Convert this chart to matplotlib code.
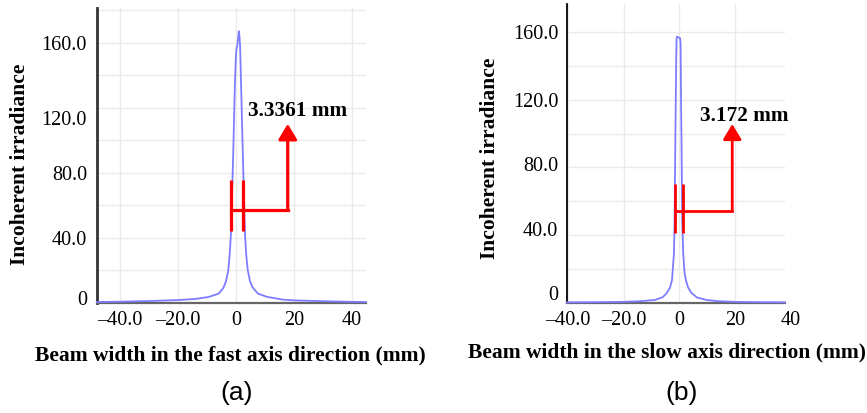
import matplotlib
matplotlib.use("Agg")
import matplotlib.pyplot as plt
from matplotlib.ticker import MultipleLocator, FixedLocator
from matplotlib.transforms import ScaledTranslation

# ---------------- data ----------------
# (a) fast axis profile
x_fast = [-48, -40, -30, -20, -14, -9.5, -6, -4.4, -3.5, -2.7, -2.2, -1.8, -1.5, -1.0,
          -0.45, -0.1, 0.1, 0.4, 0.7, 0.93, 1.15, 1.38, 1.72, 2.3, 2.76, 3.1, 3.5, 4.0,
          4.8, 5.6, 7.5, 10.6, 16, 20, 30, 40, 44.7]
y_fast = [0.3, 0.5, 0.9, 1.5, 2.2, 3.4, 5.5, 9.0, 13, 19.8, 30, 42, 60, 92,
          133, 150, 156, 158, 163, 167, 164, 157.6, 133, 92, 61, 40.3, 29, 20,
          13, 9.5, 5.5, 3.5, 1.8, 1.3, 0.8, 0.4, 0.3]

# (b) slow axis profile
x_slow = [-40.6, -30, -20, -14, -8.8, -6, -4.5, -3.3, -2.6, -1.9, -1.66, -1.44, -1.19,
          -1.05, -0.94, -0.8, 0.3, 0.5, 0.61, 0.86, 1.08, 1.44, 1.9, 2.4, 3.2, 4.5, 6.5,
          9.9, 14, 20, 30, 38.1]
y_slow = [0.2, 0.3, 0.5, 0.9, 1.6, 3.2, 5.6, 9, 13.4, 29.2, 48.9, 88.4, 127.8,
          148, 156.5, 157.4, 156.5, 153, 127.8, 88.4, 48.9, 29.2, 18, 13.4, 9, 5.6, 3,
          1.6, 0.9, 0.5, 0.3, 0.2]

y_ticks = [0, 40, 80, 120, 160]
y_tick_labels = ["0", "40.0", "80.0", "120.0", "160.0"]
x_ticks_a = [-40, -20, 0, 20, 40]
x_tick_labels_a = ["\u201340.0", "\u201320.0", "0", "20", "40"]
x_ticks_b = [-40, -20, 0, 20]
x_tick_labels_b = ["\u201340.0", "\u201320.0", "0", "20"]

width_a = "3.3361 mm"
width_b = "3.172 mm"

# annotation geometry (data units)
bars_a = (-1.83, 2.31)
bar_span_a = (44, 75.7)
hline_a = 57.2
arrow_x_a = 17.8
arrow_tip_a = 110
label_pos_a = (4.24, 118.1)

bars_b = (-1.55, 1.23)
bar_span_b = (41.4, 70.2)
hline_b = 54.3
arrow_x_b = 19.1
arrow_tip_b = 105.7
label_pos_b = (7.5, 110.5)

# ---------------- style ----------------
SERIF = "Liberation Serif"
SANS = "Liberation Sans"
TICK_FS = 14.5
LABEL_FS = 15.5
ANN_FS = 15.3
CURVE_C = "#7d7dff"
RED = "#ff0000"
GRID_C = "#ebebeb"

W, H = 867, 413
fig = plt.figure(figsize=(W / 100, H / 100), dpi=100)


def px_axes(l, t, r, b):
    return [l / W, (H - b) / H, (r - l) / W, (b - t) / H]


def setup(ax, xt, xtl, xlim, ylim, left_color, left_lw, ypad, yshift):
    ax.set_xlim(*xlim)
    ax.set_ylim(*ylim)
    ax.xaxis.set_major_locator(FixedLocator(xt))
    ax.set_xticklabels(xtl)
    ax.yaxis.set_major_locator(FixedLocator(y_ticks))
    ax.set_yticklabels(y_tick_labels)
    ax.yaxis.set_minor_locator(MultipleLocator(20))
    ax.tick_params(which="both", length=0)
    ax.tick_params(axis="x", pad=6, labelsize=TICK_FS)
    ax.tick_params(axis="y", pad=ypad, labelsize=TICK_FS)
    for lab in ax.get_xticklabels() + ax.get_yticklabels():
        lab.set_fontfamily(SERIF)
    for lab, dy in zip(ax.get_yticklabels(), yshift):
        lab.set_transform(lab.get_transform() + ScaledTranslation(0, -dy / 100, fig.dpi_scale_trans))
    ax.grid(True, which="major", axis="x", color=GRID_C, lw=1)
    ax.grid(True, which="both", axis="y", color=GRID_C, lw=1)
    ax.set_axisbelow(True)
    for s in ("top", "right"):
        ax.spines[s].set_visible(False)
    ax.spines["left"].set_color(left_color)
    ax.spines["left"].set_linewidth(left_lw)
    ax.spines["bottom"].set_color("#666666")
    ax.spines["bottom"].set_linewidth(1.6)


def annotate_width(ax, bars, span, hy, ax_x, tip, lpos, text, lw):
    for bx in bars:
        ax.plot([bx, bx], list(span), color=RED, lw=lw, solid_capstyle="butt", zorder=4)
    ax.plot([bars[0], ax_x], [hy, hy], color=RED, lw=lw, solid_capstyle="projecting", zorder=4)
    ax.annotate("", xy=(ax_x, tip), xytext=(ax_x, hy),
                arrowprops=dict(arrowstyle="-|>,head_length=0.55,head_width=0.33",
                                color=RED, lw=lw, shrinkA=0, shrinkB=0,
                                mutation_scale=17), zorder=4)
    ax.text(lpos[0], lpos[1], text, ha="left", va="center", fontsize=ANN_FS,
            fontweight="bold", fontfamily=SERIF, zorder=5)


# ---- panel (a)
ax1 = fig.add_axes(px_axes(96.7, 8, 365.7, 302.5))
setup(ax1, x_ticks_a, x_tick_labels_a, (-48.1, 44.7), (0, 181.3), "#333333", 2.0, 7,
      [-4.5, 0, 0, 10, 0])
ax1.plot(x_fast, y_fast, color=CURVE_C, lw=1.3, zorder=3, clip_on=False)
annotate_width(ax1, bars_a, bar_span_a, hline_a, arrow_x_a, arrow_tip_a, label_pos_a, width_a, 2.3)

# ---- panel (b)
ax2 = fig.add_axes(px_axes(566.5, 4, 785, 302.7))
setup(ax2, x_ticks_b, x_tick_labels_b, (-40.6, 38.1), (0, 176.7), "#000000", 1.3, 6,
      [-9.5, -6, -3, 0, 0])
ax2.plot(x_slow, y_slow, color=CURVE_C, lw=1.3, zorder=3, clip_on=False)
ax2.annotate("40", xy=(40, 0), xycoords=("data", "axes fraction"), xytext=(0, -6),
             textcoords="offset points", ha="center", va="top", fontsize=TICK_FS,
             fontfamily=SERIF, annotation_clip=False)
annotate_width(ax2, bars_b, bar_span_b, hline_b, arrow_x_b, arrow_tip_b, label_pos_b, width_b, 2.0)

# ---- labels
fig.text(230 / W, 1 - 355 / H, "Beam width in the fast axis direction (mm)", ha="center", va="center",
         fontsize=LABEL_FS, fontweight="bold", fontfamily=SERIF)
fig.text(666.5 / W, 1 - 352.7 / H, "Beam width in the slow axis direction (mm)", ha="center", va="center",
         fontsize=LABEL_FS, fontweight="bold", fontfamily=SERIF)
fig.text(20 / W, 1 - 164 / H, "Incoherent irradiance", ha="center", va="center", rotation=90,
         fontsize=LABEL_FS, fontweight="bold", fontfamily=SERIF)
fig.text(490.3 / W, 1 - 158 / H, "Incoherent irradiance", ha="center", va="center", rotation=90,
         fontsize=LABEL_FS, fontweight="bold", fontfamily=SERIF)
fig.text(237 / W, 1 - 393 / H, "(a)", ha="center", va="center", fontsize=19, fontfamily=SANS)
fig.text(682 / W, 1 - 393 / H, "(b)", ha="center", va="center", fontsize=19, fontfamily=SANS)

fig.savefig("out.png", dpi=100)
